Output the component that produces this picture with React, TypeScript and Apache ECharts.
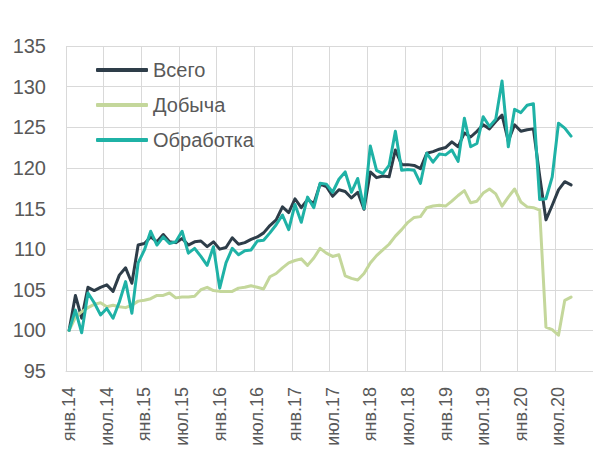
import React, { useEffect, useRef } from "react";
import * as echarts from "echarts";

const monthNames = ["янв", "фев", "мар", "апр", "май", "июн", "июл", "авг", "сен", "окт", "ноя", "дек"];
const years = [14, 15, 16, 17, 18, 19, 20];
const categories: string[] = [];
years.forEach((y) => monthNames.forEach((m) => categories.push(m + "." + y)));

const seriesNames = ["Всего", "Добыча", "Обработка"];

const total = [
  100, 104.3, 101.5, 105.3, 104.9, 105.3, 105.6, 104.8, 106.8, 107.7, 105.8, 110.5,
  110.7, 111.5, 110.9, 111.8, 110.9, 110.8, 111.3, 110.5, 110.9, 111.0, 110.3, 110.9,
  110.0, 110.2, 111.4, 110.6, 110.8, 111.2, 111.5, 112.0, 112.9, 113.6, 115.2, 114.5,
  116.2, 115.1, 116.1, 115.6, 118.0, 117.7, 116.5, 117.3, 117.1, 116.3, 117.0, 114.9,
  119.5, 118.8, 119.0, 118.9, 122.2, 120.4, 120.4, 120.3, 119.9, 121.8, 122.0, 122.3,
  122.5, 123.2, 122.6, 124.3, 123.8, 124.5, 125.3, 124.8, 125.7, 126.5, 123.3, 125.3,
  124.5, 124.7, 124.8, 119.0, 113.6, 115.4, 117.3, 118.3, 117.9,
];

const mining = [
  100, 101.6, 102.3, 102.8, 103.2, 103.4, 102.9, 103.1, 102.9, 102.8, 103.1, 103.6,
  103.7, 103.9, 104.3, 104.3, 104.6, 104.0, 104.1, 104.1, 104.2, 105.0, 105.3, 104.9,
  104.8, 104.8, 104.8, 105.2, 105.3, 105.5, 105.3, 105.1, 106.6, 107.0, 107.7, 108.3,
  108.6, 108.8, 108.0, 108.9, 110.1, 109.5, 109.1, 109.3, 106.7, 106.4, 106.2, 107.0,
  108.3, 109.2, 109.9, 110.6, 111.6, 112.4, 113.3, 113.9, 114.0, 115.1, 115.3, 115.4,
  115.3, 115.9, 116.6, 117.2, 115.7, 115.9, 116.9, 117.4, 116.8, 115.3, 116.4, 117.4,
  115.8, 115.2, 115.1, 114.8, 100.4, 100.1, 99.4, 103.7, 104.1,
];

const manufacturing = [
  100, 102.5, 99.7, 104.6, 103.4, 101.9, 102.7, 101.5, 103.5, 106.0, 102.1, 108.3,
  109.9, 112.2, 110.5, 111.5, 110.7, 110.9, 112.2, 109.5, 110.1, 109.1, 108.0, 110.3,
  105.2, 108.3, 110.1, 109.3, 109.8, 109.9, 111.0, 111.1, 112.0, 113.0, 114.2, 112.4,
  115.5, 113.3, 116.4, 115.1, 118.1, 118.0, 117.0, 118.6, 119.5, 117.0, 118.7, 115.0,
  122.7, 119.7, 119.3, 120.3, 124.5, 119.7, 119.8, 119.7, 118.1, 121.8, 120.7, 121.7,
  121.6, 122.2, 120.8, 126.1, 122.6, 123.0, 126.3, 125.1, 126.0, 130.7, 122.6, 127.2,
  126.8, 127.7, 127.9, 116.1, 116.2, 118.9, 125.5, 124.9, 123.9,
];

const colors = ["#2E3D49", "#C4D79B", "#1FB2A6"];
const FONT = "'Liberation Sans', Arial, sans-serif";
const TEXT = "#595959";
const GRID = "#D9D9D9";

export default function App() {
  const ref = useRef<HTMLDivElement>(null);
  useEffect(() => {
    if (!ref.current) return;
    const chart = echarts.init(ref.current, null, { renderer: "svg" });
    const dataSets = [total, mining, manufacturing];
    chart.setOption({
      animation: false,
      backgroundColor: "#FFFFFF",
      textStyle: { fontFamily: FONT },
      grid: { left: 66, right: 0, top: 46, bottom: 82, containLabel: false },
      legend: {
        orient: "vertical",
        left: 96,
        top: 60,
        padding: 0,
        icon: "roundRect",
        itemWidth: 52,
        itemHeight: 4,
        itemGap: 15,
        textStyle: { fontSize: 20, color: TEXT, fontFamily: FONT },
        data: seriesNames,
      },
      xAxis: {
        type: "category",
        data: categories,
        boundaryGap: true,
        axisLine: { show: true, lineStyle: { color: GRID, width: 1 } },
        axisTick: { show: false },
        axisLabel: {
          interval: 5,
          rotate: 90,
          fontSize: 18,
          color: TEXT,
          margin: 16,
          fontFamily: FONT,
        },
        splitLine: { show: true, interval: 5, lineStyle: { color: GRID, width: 1 } },
      },
      yAxis: {
        type: "value",
        min: 95,
        max: 135,
        interval: 5,
        axisLine: { show: false },
        axisTick: { show: false },
        axisLabel: { fontSize: 20, color: TEXT, margin: 20, fontFamily: FONT },
        splitLine: { show: true, lineStyle: { color: GRID, width: 1 } },
      },
      series: seriesNames.map((name, k) => ({
        name,
        type: "line",
        data: dataSets[k],
        symbol: "none",
        smooth: false,
        color: colors[k],
        lineStyle: { width: 3, color: colors[k], cap: "round", join: "round" },
      })),
    });
    return () => chart.dispose();
  }, []);
  return (
    <div
      ref={ref}
      style={{ position: "fixed", left: 0, top: 0, width: 593, height: 453 }}
    />
  );
}
